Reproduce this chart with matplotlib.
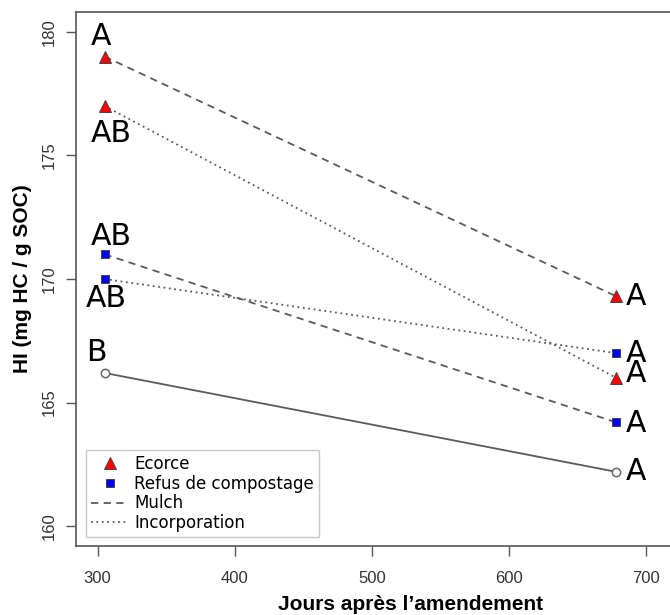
import matplotlib
matplotlib.use("Agg")
import matplotlib.pyplot as plt
from matplotlib.lines import Line2D

plt.rcParams['font.family'] = ['Liberation Sans', 'DejaVu Sans']

# jours après l'amendement (deux dates de mesure)
jours = [305, 678]

# indice HI (mg HC / g SOC)
ecorce_mulch = [179.0, 169.3]
ecorce_incorp = [177.0, 166.0]
refus_mulch = [171.0, 164.2]
refus_incorp = [170.0, 167.0]
temoin = [166.2, 162.2]

# lettres de groupes statistiques (ordre : ecorce mulch, ecorce incorp, refus mulch, refus incorp, temoin)
lettres_debut = ['A', 'AB', 'AB', 'AB', 'B']
lettres_fin = ['A', 'A', 'A', 'A', 'A']

xticks = [300, 400, 500, 600, 700]
yticks = [160, 165, 170, 175, 180]

fig = plt.figure(figsize=(6.70, 6.15), dpi=100)
ax = fig.add_axes([76/670, 1-546/615, 670/670, 534/615])

gris = '#5a5a5a'
series = [
    (ecorce_mulch, '^', 'red', (0, (4, 3)), 8),
    (ecorce_incorp, '^', 'red', (0, (1, 2)), 8),
    (refus_mulch, 's', 'blue', (0, (4, 3)), 5.5),
    (refus_incorp, 's', 'blue', (0, (1, 2)), 5.5),
]
for vals, mk, col, ls, ms in series:
    ax.plot(jours, vals, color=gris, linestyle=ls, linewidth=1.3)
    ax.plot(jours, vals, linestyle='none', marker=mk, markersize=ms,
            markerfacecolor=col, markeredgecolor='#444444', markeredgewidth=0.7)
ax.plot(jours, temoin, color=gris, linestyle='-', linewidth=1.3)
ax.plot(jours, temoin, linestyle='none', marker='o', markersize=6,
        markerfacecolor='white', markeredgecolor='#666666', markeredgewidth=1.1)

# decalages (en points) des lettres autour des points
decal_debut = [(-2.5, 14.5), (5, -19.5), (5, 13), (1.5, -14), (-6, 15)]
series_vals = [ecorce_mulch, ecorce_incorp, refus_mulch, refus_incorp, temoin]
for vals, lettre, dxy in zip(series_vals, lettres_debut, decal_debut):
    ax.annotate(lettre, (jours[0], vals[0]), xytext=dxy, textcoords='offset points',
                ha='center', va='center', fontsize=21.5, family='DejaVu Sans')
decal_fin = [(0, 0), (0, 3.5), (0, -0.5), (0, 0), (0, 0)]
for vals, lettre, dxy in zip(series_vals, lettres_fin, decal_fin):
    ax.annotate(lettre, (jours[1], vals[1]), xytext=(14.5 + dxy[0], dxy[1]),
                textcoords='offset points', ha='center', va='center',
                fontsize=21.5, family='DejaVu Sans')

ax.set_xlim(284.2, 772.6)
ax.set_ylim(159.2, 180.8)
ax.set_xticks(xticks)
ax.set_yticks(yticks)
ax.set_yticklabels([str(v) for v in yticks], rotation=90, va='center')
ax.tick_params(axis='both', direction='out', length=7.2, width=1, color='#555555',
               labelsize=12, labelcolor='#333333')
ax.tick_params(axis='x', pad=10.5)
ax.tick_params(axis='y', pad=7)
for s in ax.spines.values():
    s.set_color('#555555')
    s.set_linewidth(1.2)

ax.set_xlabel('Jours après l\u2019amendement', fontsize=15, fontweight='bold', labelpad=6.5)
ax.set_ylabel('HI (mg HC / g SOC)', fontsize=15, fontweight='bold', labelpad=7)

handles = [
    Line2D([], [], linestyle='none', marker='^', markersize=8, markerfacecolor='red',
           markeredgecolor='#444444', markeredgewidth=0.7),
    Line2D([], [], linestyle='none', marker='s', markersize=5.5, markerfacecolor='blue',
           markeredgecolor='#444444', markeredgewidth=0.7),
    Line2D([], [], color=gris, linestyle=(0, (4, 3)), linewidth=1.3),
    Line2D([], [], color=gris, linestyle=(0, (1, 2)), linewidth=1.3),
]
leg = ax.legend(handles, ['Ecorce', 'Refus de compostage', 'Mulch', 'Incorporation'],
                loc='lower left', bbox_to_anchor=(10/670, 9/534), borderaxespad=0,
                prop={'family': 'DejaVu Sans', 'size': 12}, handlelength=2.3,
                handletextpad=0.3, labelspacing=0.1, borderpad=0.3,
                fancybox=False, framealpha=1, edgecolor='#c8c8c8')
leg.get_frame().set_linewidth(1)

fig.savefig('out.png', dpi=100)
